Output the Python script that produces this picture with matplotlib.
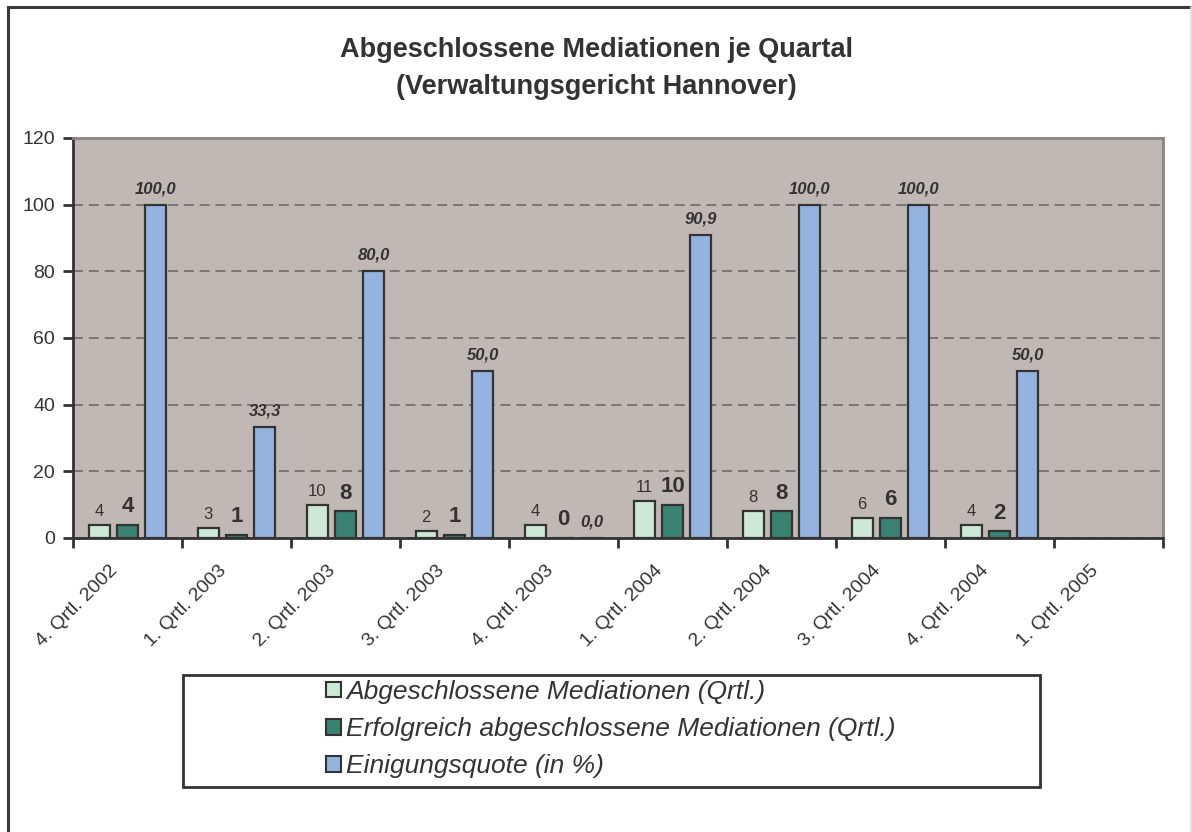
import matplotlib.pyplot as plt
import matplotlib.transforms as mtrans
import numpy as np
from matplotlib.patches import Rectangle, Patch
from matplotlib.lines import Line2D

plt.rcParams['font.family'] = ['Liberation Sans', 'DejaVu Sans']

quarters = ['4. Qrtl. 2002', '1. Qrtl. 2003', '2. Qrtl. 2003', '3. Qrtl. 2003',
            '4. Qrtl. 2003', '1. Qrtl. 2004', '2. Qrtl. 2004', '3. Qrtl. 2004',
            '4. Qrtl. 2004', '1. Qrtl. 2005']
abgeschlossen = [4, 3, 10, 2, 4, 11, 8, 6, 4, None]
erfolgreich = [4, 1, 8, 1, 0, 10, 8, 6, 2, None]
quote = [100.0, 33.3, 80.0, 50.0, 0.0, 90.9, 100.0, 100.0, 50.0, None]

c_light = '#CDE8D6'
c_dark = '#3A8272'
c_blue = '#95B3DF'
edge = '#333333'
txt = '#333333'

fig = plt.figure(figsize=(11.92, 8.32), dpi=100)
W, H = 1192, 832
ax = fig.add_axes([73 / W, 1 - 538 / H, (1163 - 73) / W, (538 - 138) / H])
ax.set_facecolor('#C0B8B5')

x = np.arange(len(quarters))
bw = 0.19
off = 0.26
for i in range(len(quarters)):
    if abgeschlossen[i] is None:
        continue
    ax.bar(x[i] - off, abgeschlossen[i], bw, color=c_light, edgecolor=edge, linewidth=1.6, zorder=3)
    ax.bar(x[i], erfolgreich[i], bw, color=c_dark, edgecolor=edge, linewidth=1.6, zorder=3)
    ax.bar(x[i] + off, quote[i], bw, color=c_blue, edgecolor=edge, linewidth=1.6, zorder=3)
    ax.text(x[i] - off, abgeschlossen[i] + 1.8, str(abgeschlossen[i]), ha='center', va='bottom',
            fontsize=12, color=txt, zorder=4)
    ax.text(x[i], erfolgreich[i] + 2.3, str(erfolgreich[i]), ha='center', va='bottom',
            fontsize=16, fontweight='bold', color=txt, zorder=4)
    ax.text(x[i] + off, quote[i] + 2.5, f'{quote[i]:.1f}'.replace('.', ','), ha='center',
            va='bottom', fontsize=12, fontweight='bold', fontstyle='italic', color=txt, zorder=4)

ax.set_xlim(-0.5, len(quarters) - 0.5)
ax.set_ylim(0, 120)
ax.set_yticks(range(0, 121, 20))
ax.yaxis.grid(True, linestyle=(0, (6, 3.5)), color='#6E6A68', linewidth=1.2, zorder=1)

ax.set_xticks(list(x - 0.5) + [len(quarters) - 0.5])
ax.set_xticklabels([])
ax.set_xticks(x, quarters, minor=True)
ax.tick_params(axis='x', which='major', length=7, width=2, color=edge, direction='out')
ax.tick_params(axis='x', which='minor', length=0, pad=8)
shift = mtrans.ScaledTranslation(-19 / 100, -13 / 100, fig.dpi_scale_trans)
for lab in ax.get_xticklabels(minor=True):
    lab.set_rotation(45)
    lab.set_ha('right')
    lab.set_va('top')
    lab.set_rotation_mode('anchor')
    lab.set_fontsize(14)
    lab.set_color(txt)
    lab.set_transform(lab.get_transform() + shift)
ax.tick_params(axis='y', length=7, width=2, color=edge, labelsize=14, labelcolor=txt, pad=6)

for s in ['left', 'bottom']:
    ax.spines[s].set_color(edge)
    ax.spines[s].set_linewidth(2)
for s in ['top', 'right']:
    ax.spines[s].set_color('#8E8282')
    ax.spines[s].set_linewidth(2)

fig.text(0.5, 1 - 50 / H, 'Abgeschlossene Mediationen je Quartal', ha='center', va='center',
         fontsize=19.5, fontweight='bold', color=txt)
fig.text(0.5, 1 - 87 / H, '(Verwaltungsgericht Hannover)', ha='center', va='center',
         fontsize=19.5, fontweight='bold', color=txt)

# outer border
fig.add_artist(Line2D([8 / W, 1], [1 - 7 / H, 1 - 7 / H], color='#3A3A3A', linewidth=2.2))
fig.add_artist(Line2D([8 / W, 8 / W], [0, 1 - 7 / H], color='#3A3A3A', linewidth=2.2))
fig.add_artist(Line2D([1191 / W, 1191 / W], [0, 1 - 7 / H], color='#DDDDDD', linewidth=1.2))

# legend box
fig.add_artist(Rectangle((183 / W, 1 - 787 / H), (1040 - 183) / W, (787 - 675) / H,
                         transform=fig.transFigure, facecolor='white', edgecolor=edge,
                         linewidth=2))
handles = [Patch(facecolor=c_light, edgecolor=edge, linewidth=1.5),
           Patch(facecolor=c_dark, edgecolor=edge, linewidth=1.5),
           Patch(facecolor=c_blue, edgecolor=edge, linewidth=1.5)]
names = ['Abgeschlossene Mediationen (Qrtl.)',
         'Erfolgreich abgeschlossene Mediationen (Qrtl.)',
         'Einigungsquote (in %)']
leg = fig.legend(handles, names, loc='center left', bbox_to_anchor=(313 / W, 1 - 729 / H),
                 frameon=False, fontsize=19, handlelength=0.55, handleheight=0.55,
                 handletextpad=0.2, labelspacing=0.5, borderpad=0)
for t in leg.get_texts():
    t.set_fontstyle('italic')
    t.set_color(txt)

fig.savefig('out.png', dpi=100)
